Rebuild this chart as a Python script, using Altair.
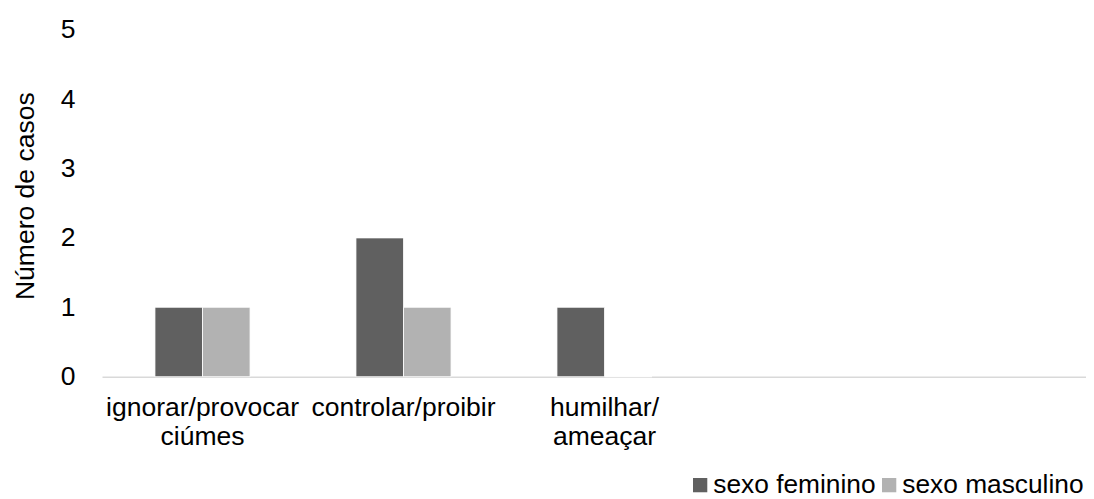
import altair as alt
import pandas as pd

categories = ["ignorar/provocar\nciúmes", "controlar/proibir", "humilhar/\nameaçar", " ", "  "]
series = ["sexo feminino", "sexo masculino"]
feminino = [1, 2, 1]
masculino = [1, 1, 0]
colors = ["#606060", "#b2b2b2"]

rows = []
for c, f, m in zip(categories, feminino, masculino):
    rows.append({"cat": c, "sexo": series[0], "casos": f})
    rows.append({"cat": c, "sexo": series[1], "casos": m})
df = pd.DataFrame(rows)

FONT = "Liberation Sans"
FS = 26.5

chart = (
    alt.Chart(df)
    .mark_bar(stroke="white", strokeWidth=0.8)
    .encode(
        x=alt.X(
            "cat:N",
            sort=categories,
            scale=alt.Scale(domain=categories, range=[0, 1005], paddingInner=0.527, paddingOuter=0.2635),
            axis=alt.Axis(
                title=None,
                labelAngle=0,
                ticks=False,
                domainColor="#d9d9d9",
                domainWidth=1.5,
                labelFontSize=FS,
                labelFont=FONT,
                labelColor="#000000",
                labelPadding=18,
                labelLineHeight=29,
                labelLimit=400,
                labelExpr="split(datum.label, '\\n')",
            ),
        ),
        xOffset=alt.XOffset("sexo:N", sort=series, scale=alt.Scale(domain=series, paddingInner=0, paddingOuter=0)),
        y=alt.Y(
            "casos:Q",
            scale=alt.Scale(domain=[0, 5], nice=False),
            axis=alt.Axis(
                title="Número de casos",
                values=[0, 1, 2, 3, 4, 5],
                format="d",
                grid=False,
                domain=False,
                ticks=False,
                labelFontSize=FS,
                labelFont=FONT,
                labelColor="#000000",
                labelPadding=27,
                titleFont=FONT,
                titleFontSize=FS,
                titleFontWeight="normal",
                titleColor="#000000",
                titleBaseline="alphabetic",
                titleAngle=270,
                titleX=-69,
                titleY=166,
            ),
        ),
        color=alt.Color(
            "sexo:N",
            sort=series,
            scale=alt.Scale(domain=series, range=colors),
            legend=alt.Legend(
                title=None,
                orient="none",
                direction="horizontal",
                legendX=585,
                legendY=442,
                symbolType="square",
                symbolSize=204,
                symbolStrokeWidth=0,
                labelFontSize=26.3,
                labelFont=FONT,
                labelColor="#000000",
                labelOffset=0,
                columnPadding=0,
                labelLimit=400,
            ),
        ),
    )
    .properties(
        width=984,
        height=347,
        autosize=alt.AutoSizeParams(type="none"),
        padding={"left": 94, "top": 21.7, "right": 0, "bottom": 122.3},
    )
    .configure(font=FONT)
    .configure_view(strokeWidth=0, stroke="transparent")
)

chart.save("out.html", embed_options={"renderer": "svg", "actions": False})
